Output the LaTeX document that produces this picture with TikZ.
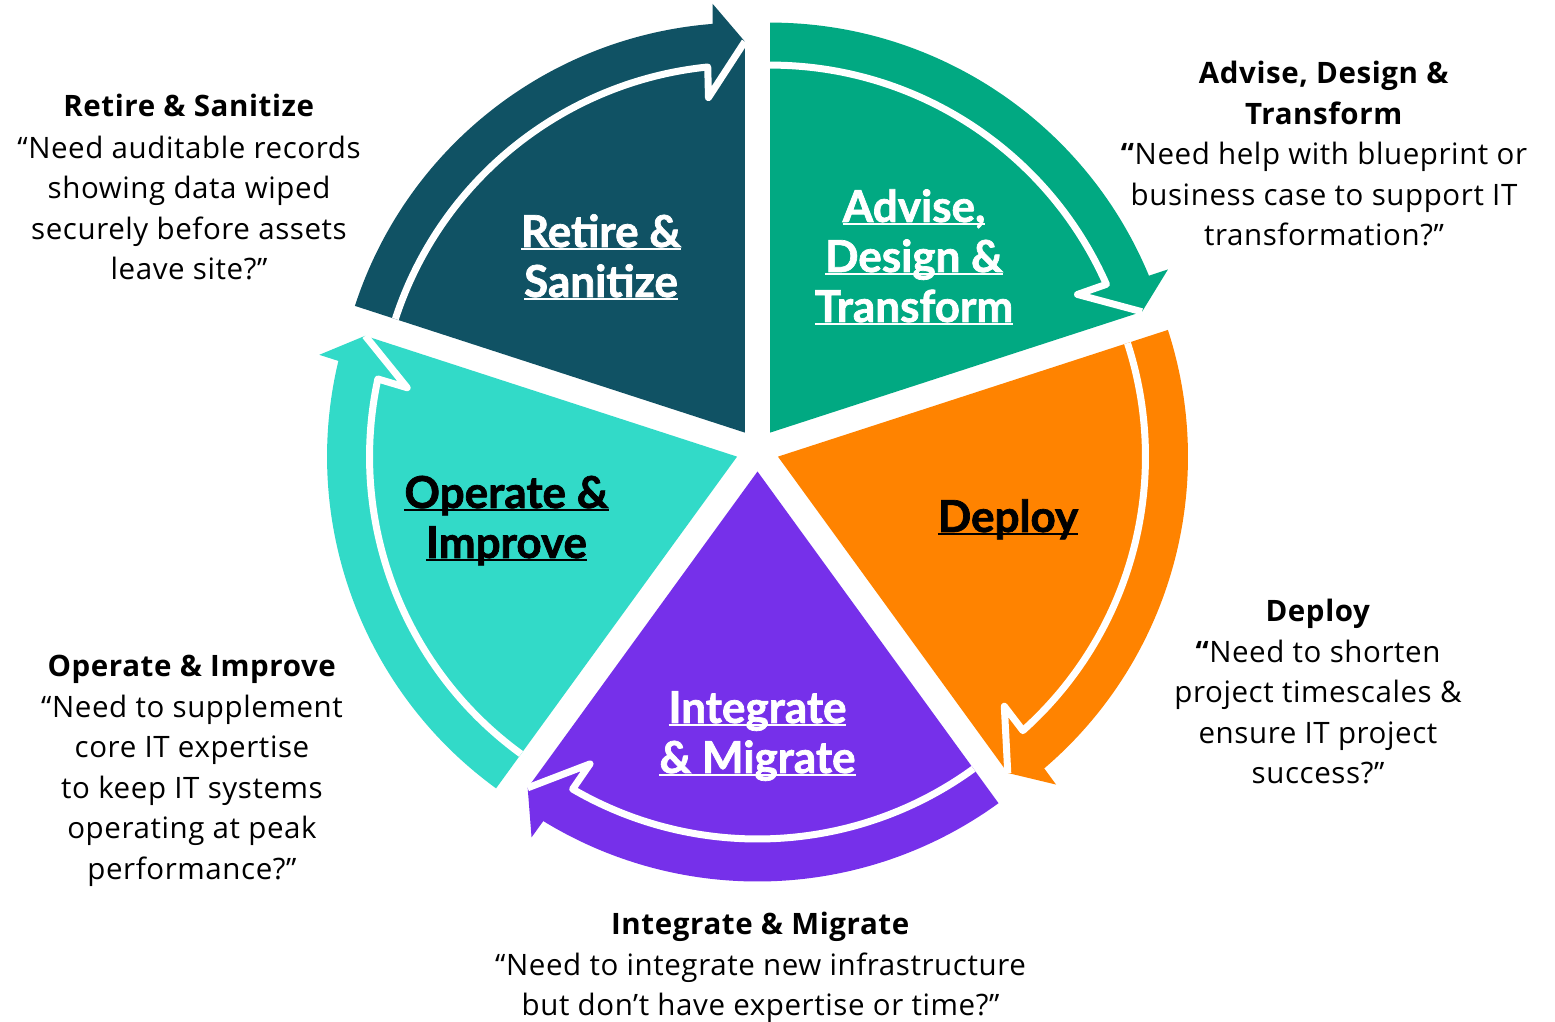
\documentclass[tikz,border=0pt]{standalone}
\usepackage{fontspec}
\setmainfont{Open Sans}
\newfontfamily\qfont{Open Sans}[LetterSpace=2]
\newfontfamily\lfont{Lato}[BoldFeatures={FakeBold=1.6}]
\usetikzlibrary{calc}
\definecolor{cRet}{RGB}{16,82,100}
\definecolor{cAdv}{RGB}{1,169,130}
\definecolor{cDep}{RGB}{255,131,0}
\definecolor{cInt}{RGB}{118,48,234}
\definecolor{cOpe}{RGB}{50,218,200}
\newcommand\myul[1]{\setbox0=\hbox{#1}\rlap{\rule[-3.5pt]{\wd0}{2pt}}\box0}
\newcommand\slicearrow[2]{%
  \pgfmathsetmacro\sa{#1+36}%
  \pgfmathsetmacro\ea{#1-36}%
  \pgfmathsetmacro\eo{\ea+4.5}%
  \pgfmathsetmacro\eb{\ea+4.3}%
  \pgfmathsetmacro\ei{\ea+5.8}%
  \pgfmathsetmacro\ej{\ea+6.2}%
  \begin{scope}[shift={(#1:21.5)}]
    \fill[#2] (0,0) -- (\sa:410) arc[start angle=\sa,end angle=\eo,radius=410] -- (\eb:430) -- (\ea:391) -- cycle;
    \draw[white,line width=7pt,line join=round] (\sa:367.5) arc[start angle=\sa,end angle=\ei,radius=367.5] -- (\ej:337) -- (\ea:391);
  \end{scope}}
\begin{document}
\begin{tikzpicture}[x=1pt,y=1pt,
  lbl/.style={inner sep=0pt,anchor=base,font={\lfont\bfseries\fontsize{44}{50}\selectfont}},
  desc/.style={inner sep=0pt,anchor=base,font={\qfont\fontsize{29.5}{40.5}\selectfont}}]
\fill[white] (0,0) rectangle (1555,1022);
\useasboundingbox (0,0) rectangle (1555,1022);
\begin{scope}[shift={(757.5,572)}]
  \slicearrow{126}{cRet}
  \slicearrow{54}{cAdv}
  \slicearrow{-18}{cDep}
  \slicearrow{-90}{cInt}
  \slicearrow{198}{cOpe}
\end{scope}
% slice labels
\node[lbl,text=white] (lret) at (601,775) {\begin{tabular}[t]{@{}c@{}}\myul{Retire \&}\\\myul{Sanitize}\end{tabular}};
\node[lbl,text=white] (ladv) at (914,800) {\begin{tabular}[t]{@{}c@{}}\myul{Advise,}\\\myul{Design \&}\\\myul{Transform}\end{tabular}};
\node[lbl,text=black] (ldep) at (1008,490) {\begin{tabular}[t]{@{}c@{}}\myul{Deploy}\end{tabular}};
\node[lbl,text=white] (lint) at (757.5,299) {\begin{tabular}[t]{@{}c@{}}\myul{Integrate}\\\myul{\& Migrate}\end{tabular}};
\node[lbl,text=black] (lope) at (506.5,514) {\begin{tabular}[t]{@{}c@{}}\myul{Operate \&}\\\myul{Improve}\end{tabular}};
% descriptions
\node[desc] (dret) at (189,905.5) {\begin{tabular}[t]{@{}c@{}}\textbf{Retire \& Sanitize}\\[1.5pt]
“Need auditable records\\showing data wiped\\securely before assets\\leave site?”\end{tabular}};
\node[desc] (dadv) at (1324,938) {\begin{tabular}[t]{@{}c@{}}\textbf{Advise, Design \&}\\\textbf{Transform}\\
\textbf{“}Need help with blueprint or\\business case to support IT\\transformation?”\end{tabular}};
\node[desc] (ddep) at (1318,400) {\begin{tabular}[t]{@{}c@{}}\textbf{Deploy}\\
\textbf{“}Need to shorten\\project timescales \&\\ensure IT project\\success?”\end{tabular}};
\node[desc] (dope) at (192,345) {\begin{tabular}[t]{@{}c@{}}\textbf{Operate \& Improve}\\
“Need to supplement\\core IT expertise\\to keep IT systems\\operating at peak\\performance?”\end{tabular}};
\node[desc] (dint) at (760.5,87) {\begin{tabular}[t]{@{}c@{}}\textbf{Integrate \& Migrate}\\
“Need to integrate new infrastructure\\but don’t have expertise or time?”\end{tabular}};
\end{tikzpicture}
\end{document}
